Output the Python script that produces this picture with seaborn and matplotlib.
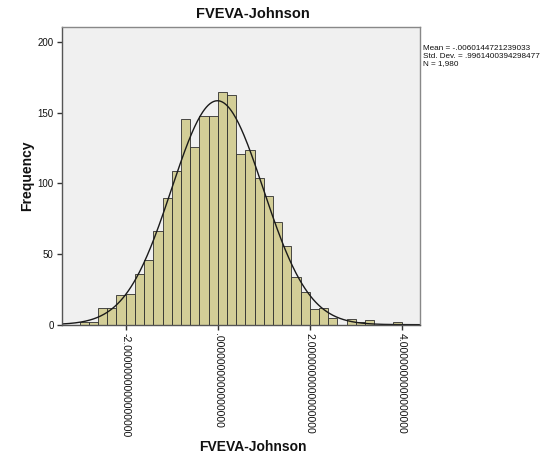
import numpy as np
import pandas as pd
import seaborn as sns
import matplotlib
matplotlib.use("Agg")
import matplotlib.pyplot as plt

# ---- data ----
bin_edges = [round(-3.0 + 0.2 * i, 1) for i in range(36)]  # -3.0 ... 4.0
counts = [2, 2, 12, 12, 21, 22, 36, 46, 66, 90, 109, 146, 126, 148, 148,
          165, 163, 121, 124, 104, 91, 73, 56, 34, 23, 11, 12, 5, 0, 4,
          2, 3, 0, 0, 2]
mean_val = -0.0060144721239033
sd_val = 0.9961400394298477
n_val = 1980
x_ticks = [-2, 0, 2, 4]
x_tick_labels = ["-2.0000000000000000", ".0000000000000000",
                 "2.0000000000000000", "4.0000000000000000"]
y_ticks = [0, 50, 100, 150, 200]
title = "FVEVA-Johnson"
xlabel = "FVEVA-Johnson"
ylabel = "Frequency"
stats_text = ["Mean = -.0060144721239033",
              "Std. Dev. = .9961400394298477",
              "N = 1,980"]

sns.set_style("white")
plt.rcParams['font.family'] = ['Liberation Sans', 'DejaVu Sans']

fig = plt.figure(figsize=(5.47, 4.61), dpi=100)
ax = fig.add_axes([0.1133, 0.2957, 0.6540, 0.6451])
ax.set_facecolor("#F0F0F0")

centers = [(bin_edges[i] + bin_edges[i + 1]) / 2 for i in range(len(counts))]
df = pd.DataFrame({"x": centers, "w": counts})
sns.histplot(data=df, x="x", weights="w", bins=bin_edges, ax=ax,
             color="#D3CE97", alpha=1.0, edgecolor="#2E2E2E", linewidth=0.6)

xlim = (-3.385, 4.39)
bw = bin_edges[1] - bin_edges[0]
xs = np.linspace(xlim[0], xlim[1], 400)
ys = n_val * bw / (sd_val * np.sqrt(2 * np.pi)) * np.exp(-0.5 * ((xs - mean_val) / sd_val) ** 2)
sns.lineplot(x=xs, y=ys, ax=ax, color="#1A1A1A", linewidth=1.0)

ax.set_xlim(*xlim)
ax.set_ylim(0, 210.6)
ax.set_xticks(x_ticks)
ax.set_xticklabels(x_tick_labels, rotation=270, fontsize=7.6, color="#111111",
                   va="top", ha="center")
ax.set_yticks(y_ticks)
ax.set_yticklabels([str(v) for v in y_ticks], fontsize=7, color="#111111")
ax.tick_params(axis="both", which="major", direction="out", length=3.5,
               width=1.0, color="#333333", pad=2.5,
               bottom=True, left=True, top=False, right=False)

for side in ["left", "bottom"]:
    ax.spines[side].set_color("#555555")
    ax.spines[side].set_linewidth(1.0)
for side in ["top", "right"]:
    ax.spines[side].set_color("#888888")
    ax.spines[side].set_linewidth(1.0)

ax.set_xlabel("")
ax.set_ylabel("")
fig.text(253 / 547, 1 - 447 / 461, xlabel, fontsize=10, fontweight="bold",
         ha="center", va="center", color="#111111")
fig.text(27 / 547, 1 - 176 / 461, ylabel, fontsize=10, fontweight="bold",
         ha="center", va="center", rotation=90, color="#111111")
fig.text(253 / 547, 1 - 14 / 461, title, fontsize=10.5, fontweight="bold",
         ha="center", va="center", color="#111111")

for i, line in enumerate(stats_text):
    fig.text(423 / 547, 1 - (49 + 7.2 * i) / 461, line, fontsize=5.9,
             ha="left", va="center", color="#111111")

fig.savefig("out.png", dpi=100)
